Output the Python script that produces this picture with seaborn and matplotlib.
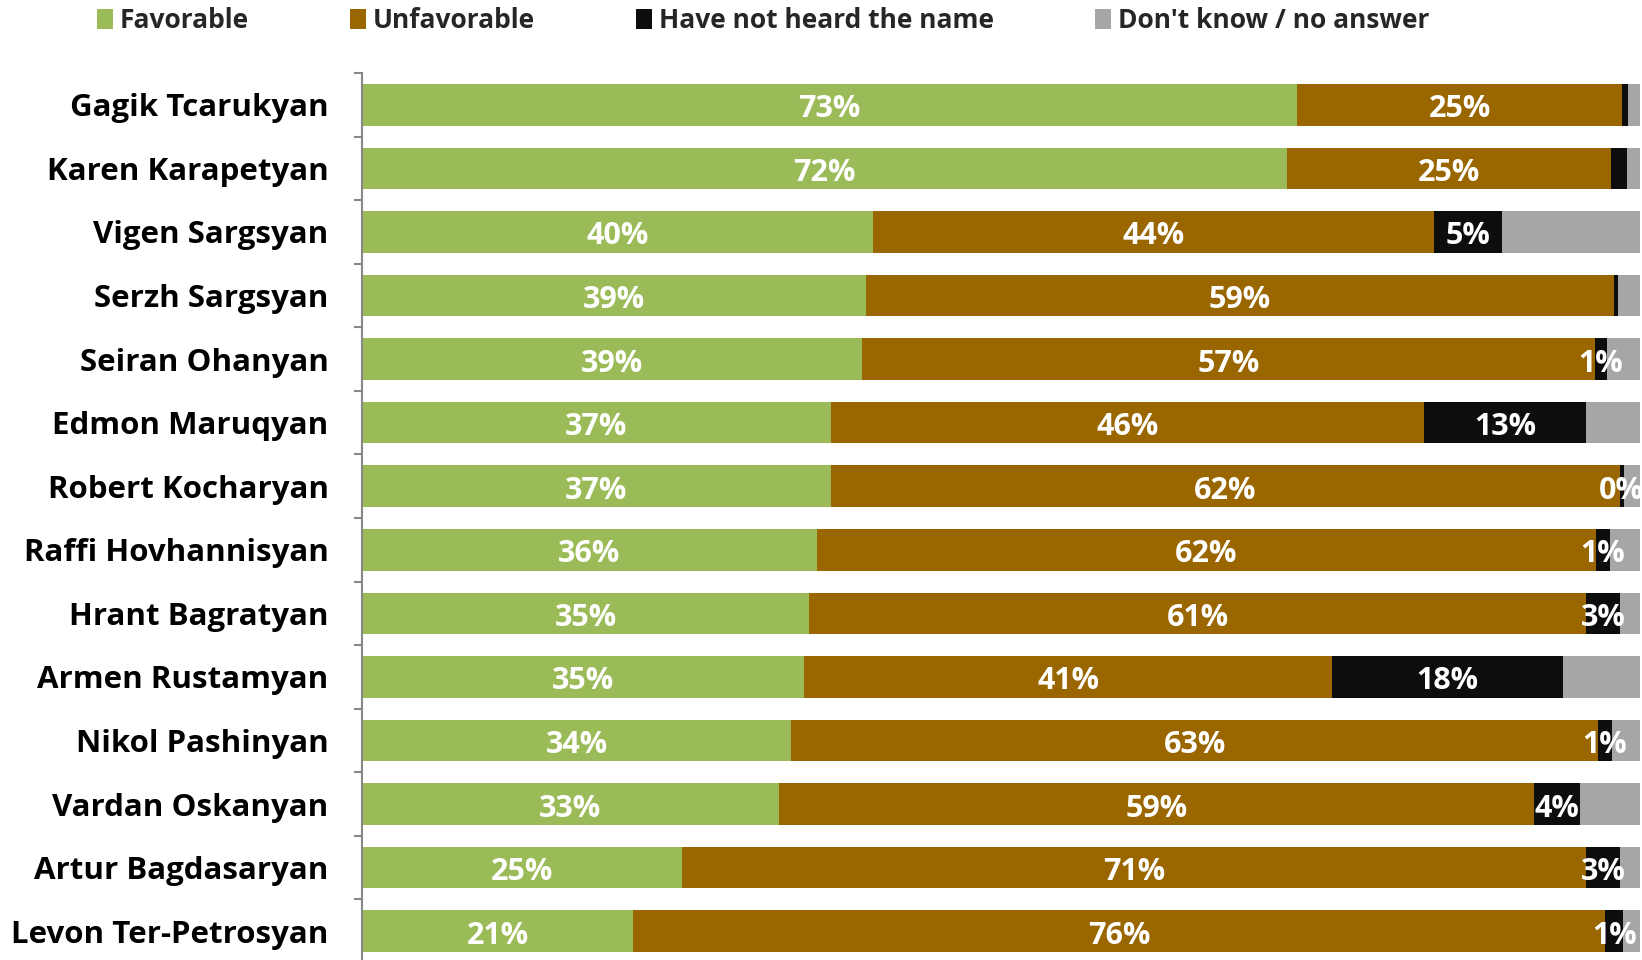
import matplotlib
matplotlib.use("Agg")
import matplotlib.pyplot as plt
import seaborn as sns
import numpy as np
import pandas as pd

names = ["Gagik Tcarukyan", "Karen Karapetyan", "Vigen Sargsyan", "Serzh Sargsyan",
         "Seiran Ohanyan", "Edmon Maruqyan", "Robert Kocharyan", "Raffi Hovhannisyan",
         "Hrant Bagratyan", "Armen Rustamyan", "Nikol Pashinyan", "Vardan Oskanyan",
         "Artur Bagdasaryan", "Levon Ter-Petrosyan"]
favorable = [73.2, 72.4, 40.0, 39.4, 39.1, 36.7, 36.7, 36.0, 35.0, 34.6, 33.6, 32.6, 25.0, 21.2]
unfavorable = [25.4, 25.3, 43.9, 58.6, 57.4, 46.4, 61.7, 61.6, 60.8, 41.3, 63.1, 59.1, 70.8, 76.1]
not_heard = [0.5, 1.25, 5.3, 0.3, 0.9, 12.7, 0.35, 1.1, 2.6, 18.1, 1.1, 3.6, 2.6, 1.4]
dont_know = [0.9, 1.05, 10.8, 1.7, 2.6, 4.2, 1.25, 2.4, 1.6, 6.0, 2.2, 4.7, 1.6, 1.3]
show_not_heard_label = [False, False, True, False, True, True, True, True, True, True, True, True, True, True]

series = ["Favorable", "Unfavorable", "Have not heard the name", "Don't know / no answer"]
colors = ["#9BBB59", "#996600", "#0D0D0D", "#A6A6A6"]

raw = np.array([favorable, unfavorable, not_heard, dont_know], dtype=float)
norm = raw / raw.sum(axis=0) * 100
cum = np.cumsum(norm, axis=0)

sns.set_theme(style="white")
plt.rcParams['font.family'] = ['Open Sans', 'DejaVu Sans']

fig = plt.figure(figsize=(16.42, 9.6), dpi=100)
ax = fig.add_axes([362/1642, -3/960, (1640-362)/1642, (960-73+3)/960])

for k in [3, 2, 1, 0]:
    df = pd.DataFrame({"name": names, "val": cum[k]})
    sns.barplot(data=df, y="name", x="val", orient="h", color=colors[k],
                width=0.655, saturation=1, ax=ax, label=series[k], linewidth=0)

h, l = ax.get_legend_handles_labels()
if ax.get_legend() is not None:
    ax.get_legend().remove()

ax.set_xlim(0, 100)
ax.set_ylim(len(names) - 0.5, -0.5)
ax.set_xlabel("")
ax.set_ylabel("")

# data labels
label_sets = [favorable, unfavorable, not_heard]
for k in range(3):
    for i in range(len(names)):
        if k == 2 and not show_not_heard_label[i]:
            continue
        start = cum[k - 1][i] if k > 0 else 0
        center = (start + cum[k][i]) / 2
        ax.text(center, i + 0.07, f"{label_sets[k][i]:.0f}%", ha="center", va="center",
                color="white", fontsize=22, fontweight="bold")

for s in ["top", "right", "bottom"]:
    ax.spines[s].set_visible(False)
ax.spines["left"].set_color("#888888")
ax.spines["left"].set_linewidth(1.5)
ax.set_xticks([])
ax.set_yticks(range(len(names)))
ax.set_yticklabels(names, fontsize=22.5, fontweight="bold", color="black")
ax.tick_params(axis="y", which="major", length=0, pad=24)
ax.set_yticks(np.arange(-0.5, len(names), 1.0), minor=True)
ax.tick_params(axis="y", which="minor", length=6, width=1.5, color="#888888", left=True)

order = [l.index(s) for s in series]
fig.legend([h[i] for i in order], [l[i] for i in order], loc="center left",
           bbox_to_anchor=(97/1642, 1 - 21/960), ncol=4, frameon=False,
           prop={"size": 19, "weight": "bold"}, handlelength=0.6, handleheight=0.8,
           handletextpad=0.25, columnspacing=3.85, borderpad=0, borderaxespad=0)

fig.savefig("out.png", dpi=100)
